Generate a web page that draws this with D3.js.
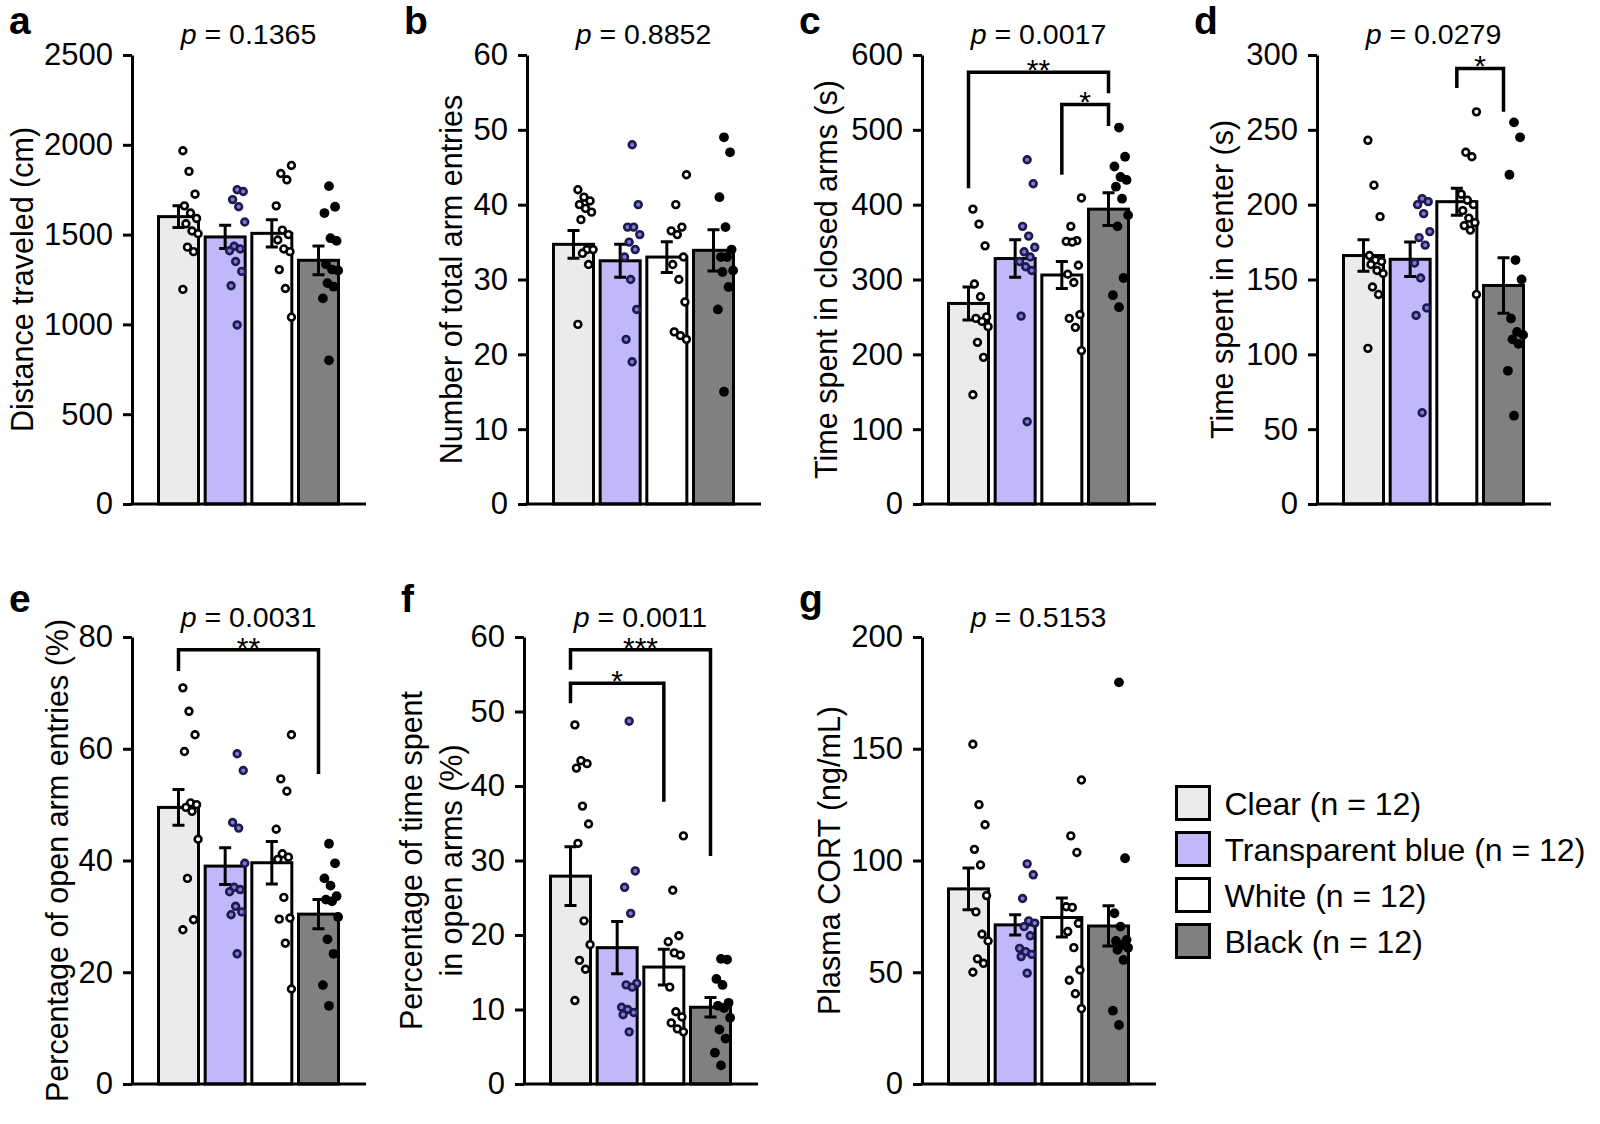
<!DOCTYPE html>
<html>
<head>
<meta charset="utf-8">
<script src="https://cdn.jsdelivr.net/npm/d3@7"></script>
<style>
  body { margin: 0; background: #fff; }
  svg { display: block; }
  text { font-family: "Liberation Sans", Arial, sans-serif; fill: #000; }
</style>
</head>
<body>
<div class="chart"></div>
<script>
// Groups and legend
const groups = ['Clear', 'Transparent blue', 'White', 'Black']
const legendLabels = ['Clear (n = 12)', 'Transparent blue (n = 12)', 'White (n = 12)', 'Black (n = 12)']
const barColors = ['#ebebeb', '#c0b8f9', '#ffffff', '#808080']

// a - distance traveled (cm)
const distanceMean = [1600, 1487, 1507, 1357]
const distanceSem = [60, 65, 76, 80]
const distanceDots = [
  [1967, 1852, 1725, 1660, 1620, 1590, 1560, 1520, 1505, 1430, 1405, 1195],
  [1750, 1740, 1695, 1655, 1570, 1435, 1420, 1410, 1350, 1295, 1215, 997],
  [1885, 1840, 1805, 1660, 1525, 1500, 1470, 1420, 1405, 1305, 1200, 1040],
  [1770, 1655, 1620, 1480, 1465, 1335, 1305, 1300, 1230, 1210, 1145, 800]
]

// b - number of total arm entries
const entriesMean = [34.7, 32.5, 33.0, 33.9]
const entriesSem = [1.85, 2.2, 2.05, 2.75]
const entriesDots = [
  [42, 41, 40.5, 40, 39.5, 39, 38, 34, 34, 33.5, 32, 24],
  [48, 40, 37, 37, 36, 35, 34, 33, 30, 26, 22, 19],
  [44, 40, 37, 36.5, 36, 33, 32, 30, 27, 23, 22.5, 22],
  [49, 47, 41, 37, 34, 33, 33, 31.2, 31, 29, 26, 15]
]

// c - time spent in closed arms (s)
const closedMean = [268, 328, 306, 394]
const closedSem = [22, 25, 18, 22]
const closedDots = [
  [394, 374, 345, 294, 277, 250, 248, 244, 237, 216, 196, 146],
  [460, 428, 371, 358, 343, 337, 330, 324, 317, 312, 251, 110],
  [409, 371, 352, 351, 350, 319, 307, 296, 253, 248, 236, 205],
  [503, 464, 451, 437, 433, 424, 408, 386, 371, 302, 279, 263]
]
const closedBrackets = [
  { from: 0, to: 3, top: 577, legs: [422, 549], stars: '**' },
  { from: 2, to: 3, top: 534, legs: [440, 505], stars: '*' }
]

// d - time spent in center (s)
const centerMean = [166, 163.5, 202, 146]
const centerSem = [10.5, 11.5, 9, 18.5]
const centerDots = [
  [243, 213, 192, 166, 163, 162, 160, 156, 154, 145, 140, 104],
  [204, 202, 200, 194, 182, 178, 173, 161, 151, 131, 126, 61],
  [262, 235, 232, 207, 203, 200, 196, 191, 188, 186, 183, 140],
  [255, 245, 220, 163, 150, 124, 115, 113, 110, 107, 89, 59]
]
const centerBrackets = [
  { from: 2, to: 3, top: 291, legs: [278, 262], stars: '*' }
]

// e - percentage of open arm entries (%)
const openEntriesMean = [49.5, 39.0, 39.6, 30.4]
const openEntriesSem = [3.2, 3.3, 3.8, 2.6]
const openEntriesDots = [
  [70.9, 66.7, 62.5, 59.5, 50.3, 50.0, 49.5, 48.8, 43.8, 36.8, 29.4, 27.6],
  [59.1, 56.1, 46.8, 45.8, 39.5, 35.2, 34.8, 34.4, 31.8, 30.8, 30.3, 23.3],
  [62.5, 54.6, 52.4, 45.6, 41.2, 40.6, 40.2, 33.4, 29.7, 29.5, 25.2, 17.0],
  [43.0, 39.5, 36.8, 35.5, 33.6, 33.0, 32.7, 29.9, 25.9, 23.3, 17.7, 14.0]
]
const openEntriesBrackets = [
  { from: 0, to: 3, top: 77.7, legs: [73.9, 55.5], stars: '**' }
]

// f - percentage of time spent in open arms (%)
const openTimeMean = [27.9, 18.3, 15.7, 10.3]
const openTimeSem = [3.95, 3.5, 2.4, 1.3]
const openTimeDots = [
  [48.2, 43.4, 43.0, 42.4, 37.3, 34.9, 32.3, 21.9, 18.7, 16.6, 15.4, 11.2],
  [48.7, 28.6, 26.4, 22.9, 13.5, 13.3, 13.0, 10.3, 10.0, 9.6, 9.3, 7.0],
  [33.3, 26.0, 19.9, 19.1, 17.6, 17.3, 13.0, 9.7, 9.0, 8.2, 7.4, 7.0],
  [16.8, 16.7, 14.1, 13.3, 10.9, 10.5, 10.2, 8.9, 7.3, 6.1, 4.2, 2.5]
]
const openTimeBrackets = [
  { from: 0, to: 3, top: 58.3, legs: [55.6, 30.6], stars: '***' },
  { from: 0, to: 2, top: 53.8, legs: [51.1, 37.9], stars: '*' }
]

// g - plasma CORT (ng/mL)
const cortMean = [87.3, 71.2, 74.5, 70.7]
const cortSem = [9.3, 4.5, 8.7, 9]
const cortDots = [
  [152, 125, 116, 105, 98, 84.3, 77, 67, 64, 56, 54, 50],
  [98.5, 93.6, 83, 73, 72, 70.4, 66.3, 60.7, 59.2, 58, 57, 49.6],
  [136, 111, 103.6, 79.3, 79, 71.9, 68.2, 61, 51, 46.4, 40.4, 33.7],
  [179.7, 101, 76.4, 70.4, 64.5, 64, 62.2, 61, 60, 55.5, 32.8, 26.4]
]

const pValues = ['0.1365', '0.8852', '0.0017', '0.0279', '0.0031', '0.0011', '0.5153']

// Layout
const rows = [
  { top: 55, bottom: 504, letterY: 34, pY: 44 },
  { top: 637, bottom: 1084, letterY: 612, pY: 627 }
]

const panels = [
  { id: 'a', x0: 132, row: 0, max: 2500, step: 500, label: ['Distance traveled (cm)'], off: [99], mean: distanceMean, sem: distanceSem, dots: distanceDots, brackets: [] },
  { id: 'b', x0: 527, row: 0, max: 60, step: 10, label: ['Number of total arm entries'], off: [65], mean: entriesMean, sem: entriesSem, dots: entriesDots, brackets: [] },
  { id: 'c', x0: 922, row: 0, max: 600, step: 100, label: ['Time spent in closed arms (s)'], off: [85], mean: closedMean, sem: closedSem, dots: closedDots, brackets: closedBrackets },
  { id: 'd', x0: 1317, row: 0, max: 300, step: 50, label: ['Time spent in center (s)'], off: [84], mean: centerMean, sem: centerSem, dots: centerDots, brackets: centerBrackets },
  { id: 'e', x0: 132, row: 1, max: 80, step: 20, label: ['Percentage of open arm entries (%)'], off: [64], mean: openEntriesMean, sem: openEntriesSem, dots: openEntriesDots, brackets: openEntriesBrackets },
  { id: 'f', x0: 524, row: 1, max: 60, step: 10, label: ['Percentage of time spent', 'in open arms (%)'], off: [102, 62], mean: openTimeMean, sem: openTimeSem, dots: openTimeDots, brackets: openTimeBrackets },
  { id: 'g', x0: 922, row: 1, max: 200, step: 50, label: ['Plasma CORT (ng/mL)'], off: [82], mean: cortMean, sem: cortSem, dots: cortDots, brackets: [] }
]

const width = 1600
const height = 1124

const svg = d3.select('.chart').append('svg')
  .attr('width', width)
  .attr('height', height)

panels.forEach((p, pi) => {
  const row = rows[p.row]
  const g = svg.append('g')

  const x = d3.scaleBand()
    .domain(groups)
    .range([p.x0 + 26.5, p.x0 + 206.5])
    .paddingInner(0.143)
  const bw = x.bandwidth()

  const y = d3.scaleLinear()
    .domain([0, p.max])
    .range([row.bottom, row.top])

  // Bars
  g.selectAll('rect.bar')
    .data(p.mean)
    .enter()
    .append('rect')
    .attr('class', 'bar')
    .attr('x', (d, i) => x(groups[i]))
    .attr('y', d => y(d))
    .attr('width', bw)
    .attr('height', d => y(0) - y(d))
    .attr('fill', (d, i) => barColors[i])
    .attr('stroke', '#000')
    .attr('stroke-width', 3)

  // Error bars
  p.mean.forEach((m, i) => {
    const cx = x(groups[i]) + bw / 2
    const s = p.sem[i]
    const path = d3.path()
    path.moveTo(cx, y(m - s)); path.lineTo(cx, y(m + s))
    path.moveTo(cx - 6, y(m + s)); path.lineTo(cx + 6, y(m + s))
    path.moveTo(cx - 6, y(m - s)); path.lineTo(cx + 6, y(m - s))
    g.append('path')
      .attr('d', path.toString())
      .attr('fill', 'none')
      .attr('stroke', '#000')
      .attr('stroke-width', 3)
  })

  // Individual points
  p.dots.forEach((vals, gi) => {
    const center = x(groups[gi]) + bw / 2 + bw * 0.3
    g.selectAll(null)
      .data(vals)
      .enter()
      .append('circle')
      .attr('cx', (d, i) => center + (((i * 37 + gi * 5) % 11) / 10 - 0.5) * bw * 0.38)
      .attr('cy', d => y(d))
      .attr('r', gi === 3 ? 4.9 : 3.4)
      .attr('fill', gi === 3 ? '#000' : gi === 1 ? '#7f77dc' : '#fff')
      .attr('stroke', gi === 3 ? 'none' : gi === 1 ? '#1d1a4c' : '#000')
      .attr('stroke-width', 2.6)
  })

  // Axes
  const yAxis = d3.axisLeft(y)
    .tickValues(d3.range(0, p.max + p.step / 2, p.step))
    .tickSize(9)
    .tickSizeOuter(0)
    .tickPadding(10)
    .tickFormat(d3.format('d'))

  const ag = g.append('g')
    .attr('transform', `translate(${p.x0},0)`)
    .call(yAxis)
  ag.select('.domain').attr('stroke-width', 3)
  ag.selectAll('.tick line').attr('stroke-width', 3)
  ag.selectAll('.tick text')
    .attr('font-size', 31)
    .attr('font-family', '"Liberation Sans", Arial, sans-serif')
    .attr('fill', '#000')

  g.append('line')
    .attr('x1', p.x0 - 1.5)
    .attr('x2', p.x0 + 234)
    .attr('y1', y(0))
    .attr('y2', y(0))
    .attr('stroke', '#000')
    .attr('stroke-width', 3)

  // Axis title
  const midY = (row.top + row.bottom) / 2
  p.label.forEach((line, li) => {
    g.append('text')
      .attr('transform', `translate(${p.x0 - p.off[li]},${midY}) rotate(-90)`)
      .attr('text-anchor', 'middle')
      .attr('font-size', 30.5)
      .text(line)
  })

  // Panel letter
  g.append('text')
    .attr('x', p.x0 - 123)
    .attr('y', row.letterY)
    .attr('font-size', 39)
    .attr('font-weight', 'bold')
    .text(p.id)

  // p value
  const pt = g.append('text')
    .attr('x', (x(groups[0]) + x(groups[3]) + bw) / 2)
    .attr('y', row.pY)
    .attr('text-anchor', 'middle')
    .attr('font-size', 28.5)
  pt.append('tspan').attr('font-style', 'italic').text('p')
  pt.append('tspan').text(' = ' + pValues[pi])

  // Significance brackets
  p.brackets.forEach(b => {
    const xa = x(groups[b.from]) + bw / 2
    const xb = x(groups[b.to]) + bw / 2
    const path = d3.path()
    path.moveTo(xa, y(b.legs[0]))
    path.lineTo(xa, y(b.top))
    path.lineTo(xb, y(b.top))
    path.lineTo(xb, y(b.legs[1]))
    g.append('path')
      .attr('d', path.toString())
      .attr('fill', 'none')
      .attr('stroke', '#000')
      .attr('stroke-width', 3.5)
    g.append('text')
      .attr('x', (xa + xb) / 2)
      .attr('y', y(b.top) + 8)
      .attr('text-anchor', 'middle')
      .attr('font-size', 30)
      .text(b.stars)
  })
})

// Legend
const legend = svg.append('g').attr('transform', 'translate(1176.5,786.5)')
legendLabels.forEach((name, i) => {
  legend.append('rect')
    .attr('x', 0)
    .attr('y', i * 46)
    .attr('width', 33)
    .attr('height', 33)
    .attr('fill', barColors[i])
    .attr('stroke', '#000')
    .attr('stroke-width', 3)
  legend.append('text')
    .attr('x', 48)
    .attr('y', i * 46 + 17)
    .attr('dy', '0.35em')
    .attr('font-size', 32)
    .text(name)
})
</script>
</body>
</html>
